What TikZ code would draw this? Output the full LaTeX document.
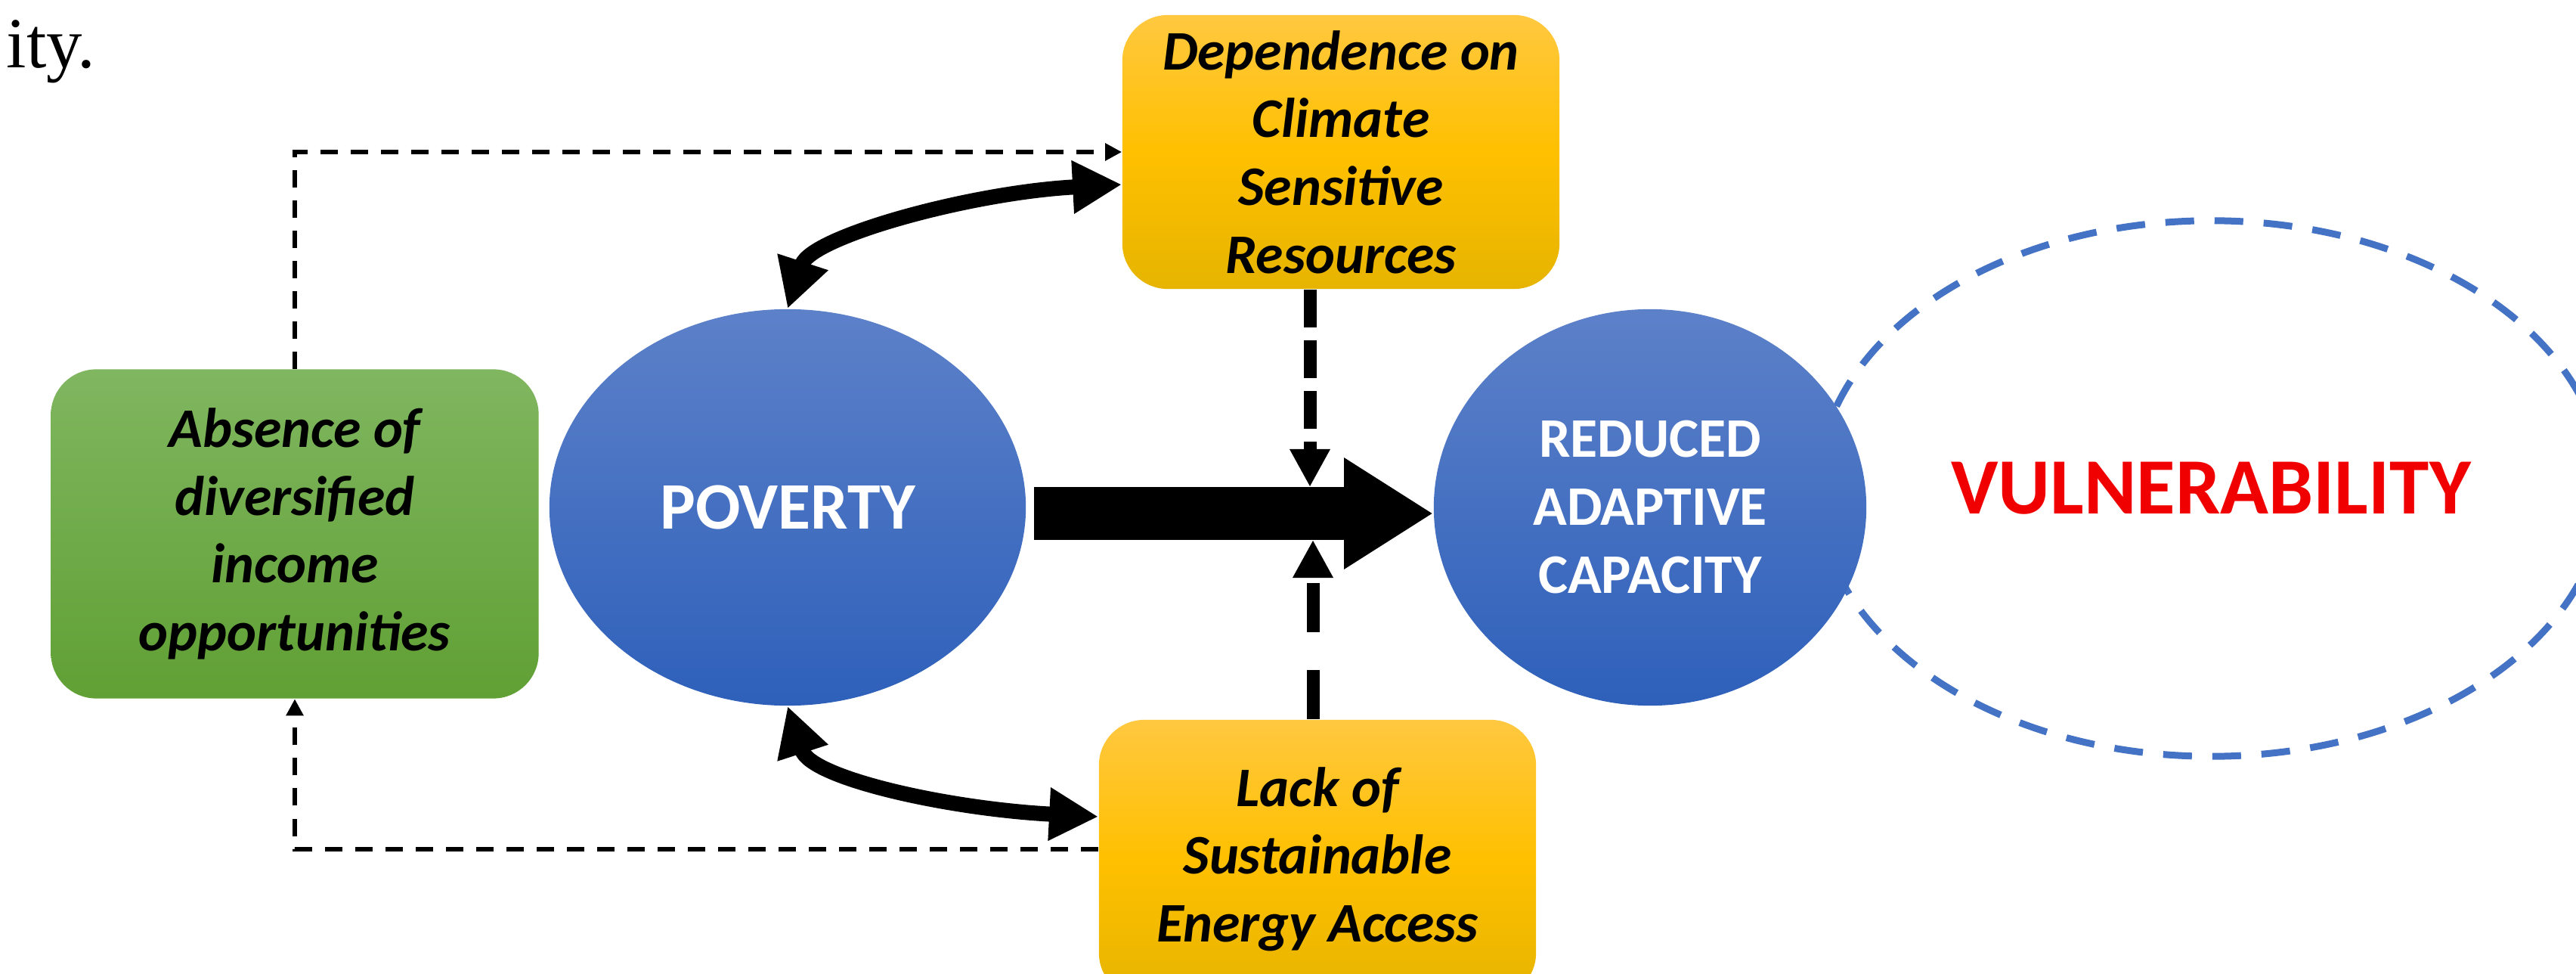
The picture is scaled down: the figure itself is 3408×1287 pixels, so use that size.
\documentclass[tikz,border=0pt]{standalone}
\usepackage{fontspec}
\setsansfont{Carlito}
\newfontfamily\pagefont{Liberation Serif}
\usepackage{xcolor}
\usepackage{tikz}
\usetikzlibrary{arrows.meta,shapes.geometric}

\definecolor{povtop}{RGB}{93,129,201}
\definecolor{povbot}{RGB}{46,96,186}
\definecolor{grntop}{RGB}{128,182,96}
\definecolor{grnbot}{RGB}{96,160,52}
\definecolor{yeltop}{RGB}{255,200,64}
\definecolor{yelmid}{RGB}{255,192,0}
\definecolor{yelbot}{RGB}{230,180,0}
\definecolor{vulnblue}{RGB}{68,114,196}
\definecolor{vulnred}{RGB}{240,0,0}

\begin{document}
\begin{tikzpicture}[x=0.01cm,y=0.01cm,
    main node/.style={ellipse,inner sep=0pt,top color=povtop,bottom color=povbot,
        text=white,align=center},
    cause node/.style={rectangle,rounded corners=0.6cm,align=center,
        font=\sffamily\bfseries\itshape\fontsize{21}{25.5}\selectfont},
    yellow node/.style={cause node,top color=yeltop,bottom color=yelbot,
        middle color=yelmid,minimum width=5.78cm},
    thin link/.style={line width=0.06cm,dash pattern=on 0.23cm off 0.17cm,
        -{Triangle[length=0.22cm,width=0.22cm]}},
    loop link/.style={line width=0.2cm,
        {Triangle[length=0.65cm,width=0.66cm]}-{Triangle[length=0.65cm,width=0.66cm]}},
    feed link/.style={line width=0.17cm,-{Triangle[length=0.5cm,width=0.5cm]}}]

    \useasboundingbox (0,0) rectangle (3408,1287);

    % end of the paragraph above the figure
    \node[anchor=base west,inner sep=0pt,font=\pagefont\fontsize{27}{32}\selectfont] (pagetext) at (8,1197) {ity.};

    \node[ellipse,draw=vulnblue,line width=0.09cm,dash pattern=on 0.38cm off 0.27cm,
          minimum width=10.4cm,minimum height=7.08cm,inner sep=0pt,text=vulnred,
          font=\sffamily\bfseries\fontsize{30}{36}\selectfont] (vuln) at (2925,641) {VULNERABILITY};

    \node[main node,minimum width=6.3cm,minimum height=5.24cm,
          font=\sffamily\bfseries\fontsize{25}{30}\selectfont] (pov) at (1042,616) {POVERTY};
    \node[main node,minimum width=5.72cm,minimum height=5.24cm,
          font=\sffamily\bfseries\fontsize{21}{25.6}\selectfont] (rac) at (2183,616) {REDUCED\\ADAPTIVE\\CAPACITY};

    \node[cause node,top color=grntop,bottom color=grnbot,minimum width=6.45cm,
          minimum height=4.35cm] (abs) at (390,581) {Absence of\\diversified\\income\\opportunities};
    \node[yellow node,minimum height=3.62cm] (dcr) at (1774,1086) {Dependence on\\Climate\\Sensitive\\Resources};
    \node[yellow node,minimum height=3.68cm] (lsea) at (1743,151) {Lack of\\Sustainable\\Energy Access};

    % main causal arrow
    \draw[line width=0.7cm,-{Triangle[length=1.18cm,width=1.39cm]},shorten <=0.1cm]
        ([yshift=-0.08cm]pov.east) -- ([yshift=-0.08cm]rac.west);

    \coordinate (hit top) at (1733,643);
    \coordinate (hit bot) at (1737,573);
    \draw[feed link,dash pattern=on 0.5cm off 0.17cm] (hit top |- dcr.south) -- (hit top);
    \draw[feed link,dash pattern=on 0.65cm off 0.5cm] (hit bot |- lsea.north) -- (hit bot);

    % two-way links between poverty and the two drivers
    \draw[loop link] (pov.north) to[out=72,in=183,out distance=1cm,in distance=2cm] ([yshift=-0.43cm]dcr.west);
    \draw[loop link] (pov.south) to[out=-72,in=177,out distance=1cm,in distance=2cm] ([yshift=0.56cm]lsea.west);

    \draw[thin link] (abs.north) |- (dcr.west);
    \draw[thin link] ([yshift=0.13cm]lsea.west) -| (abs.south);
\end{tikzpicture}
\end{document}
